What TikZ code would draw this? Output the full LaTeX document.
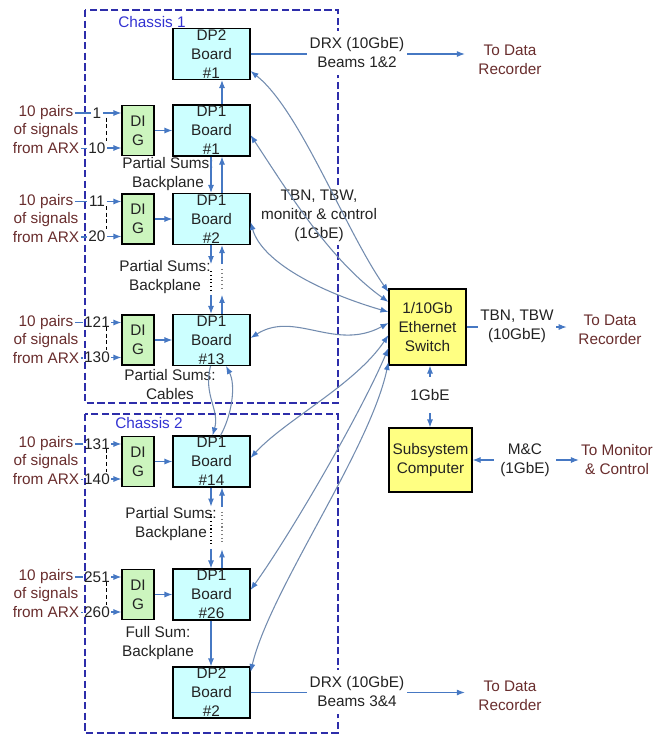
\documentclass[tikz,border=0pt]{standalone}
\usepackage{fontspec}
\setmainfont{Liberation Sans}
\usetikzlibrary{arrows.meta,calc}
\definecolor{boxcyan}{RGB}{204,255,255}
\definecolor{boxgreen}{RGB}{204,245,190}
\definecolor{boxyellow}{RGB}{255,255,130}
\definecolor{chassisc}{RGB}{45,45,170}
\definecolor{chlabel}{RGB}{50,50,210}
\definecolor{arrblue}{RGB}{70,120,195}
\definecolor{curvec}{RGB}{115,140,175}
\definecolor{sigred}{RGB}{105,45,45}
\definecolor{txt}{RGB}{35,35,35}

\newcommand{\ingroup}[4]{%
  \node[dig] (dig#1) at (138,#2) {DI\\G};
  \node[sig] (pa#1) at (46,{#2-17.5}) {10 pairs};
  \node[sig] (of#1) at (46,{#2+0.5}) {of signals};
  \node[sig] (fr#1) at (46,{#2+18}) {from ARX};
  \node[num] (na#1) at (97,{#2-17.5}) {#3};
  \node[num] (nb#1) at (97,{#2+17.5}) {#4};
  \draw[thinl] (pa#1.east) -- (pa#1.east -| na#1.west);
  \draw[thinl] (fr#1.east) -- (fr#1.east -| nb#1.west);
  \draw[arr] (na#1.east) -- (na#1.east -| dig#1.west);
  \draw[arr] (nb#1.east) -- (nb#1.east -| dig#1.west);
  \draw[black, line width=0.7pt, dash pattern=on 3pt off 2pt] ($(dig#1.west)+(-15,-13)$) -- ($(dig#1.west)+(-15,10)$);
  \draw[arr] (dig#1.east) -- (dp#1.west);
}

\begin{document}
\begin{tikzpicture}[x=0.75pt,y=-0.75pt,
  every node/.style={font=\fontsize{11.5}{14.25}\selectfont, text=txt},
  board/.style={draw=black, line width=0.8pt, fill=boxcyan, minimum width=57.75pt, minimum height=38.25pt, inner sep=0pt, align=center},
  dig/.style={draw=black, line width=0.8pt, fill=boxgreen, minimum width=24pt, minimum height=37.5pt, inner sep=0pt, align=center},
  ybox/.style={draw=black, line width=0.8pt, fill=boxyellow, inner sep=0pt, align=center},
  sig/.style={text=sigred, inner sep=1pt},
  num/.style={inner xsep=1pt, inner ysep=1pt},
  lbl/.style={align=center},
  wlbl/.style={align=center, fill=white, inner xsep=2pt, inner ysep=4pt},
  dest/.style={align=center, text=sigred, inner sep=0pt},
  arr/.style={draw=arrblue, line width=0.8pt, -{Latex[length=6pt,width=4.5pt]}},
  barr/.style={draw=arrblue, line width=0.8pt, {Latex[length=6pt,width=4.5pt]}-{Latex[length=6pt,width=4.5pt]}},
  thinl/.style={draw=arrblue, line width=0.8pt},
  curv/.style={draw=curvec, line width=0.8pt, {Latex[length=6pt,width=4.5pt,color=arrblue]}-{Latex[length=6pt,width=4.5pt,color=arrblue]}},
  cable/.style={draw=curvec, line width=0.8pt, -{Latex[length=6pt,width=4.5pt,color=arrblue]}},
  chassis/.style={draw=chassisc, line width=1.1pt, dash pattern=on 5.5pt off 2.5pt},
  dotb/.style={draw=black, line width=0.8pt, dotted},
  dotg/.style={draw=gray, line width=0.8pt, dotted},
]
\useasboundingbox (0,0) rectangle (664,736);

% chassis frames
\draw[chassis] (85,10) rectangle (338,403);
\draw[chassis] (85,414) rectangle (338,733);
\node[text=chlabel] (ch1) at (152,22) {Chassis 1};
\node[text=chlabel] (ch2) at (149,423) {Chassis 2};

% boards
\node[board] (dp2a) at (211.5,54) {DP2\\Board\\\#1};
\node[board] (dpa) at (211.5,130.5) {DP1\\Board\\\#1};
\node[board] (dpb) at (211.5,219) {DP1\\Board\\\#2};
\node[board] (dpm) at (211.5,340) {DP1\\Board\\\#13};
\node[board] (dpn) at (211.5,461.5) {DP1\\Board\\\#14};
\node[board] (dpz) at (211.5,594.5) {DP1\\Board\\\#26};
\node[board] (dp2b) at (211.5,692.5) {DP2\\Board\\\#2};

\node[ybox, minimum width=57.75pt, minimum height=57pt] (sw) at (427.5,327) {1/10Gb\\Ethernet\\Switch};
\node[ybox, minimum width=62.25pt, minimum height=48pt] (sub) at (430.5,460) {Subsystem\\Computer};

\node[dest] (tdr1) at (510,59.5) {To Data\\Recorder};
\node[dest] (tdr2) at (610,329.5) {To Data\\Recorder};
\node[dest] (tdr3) at (510,696) {To Data\\Recorder};
\node[dest] (tmc) at (617,460) {To Monitor\\\& Control};

% input groups
\ingroup{a}{130.5}{1}{10}
\ingroup{b}{219}{11}{20}
\ingroup{m}{340}{121}{130}
\ingroup{n}{461.5}{131}{140}
\ingroup{z}{594.5}{251}{260}

% partial sum labels
\node[lbl] (ps1) at (168,174) {Partial Sums:\\Backplane};
\node[lbl] (ps2) at (165,277.5) {Partial Sums:\\Backplane};
\node[lbl] (ps3) at (170,385) {Partial Sums:\\Cables};
\node[lbl] (ps4) at (171,524) {Partial Sums:\\Backplane};
\node[lbl] (fs) at (158,643.5) {Full Sum:\\Backplane};

% vertical connections
\draw[arr] ($(dpa.north)+(10.5,0)$) -- ($(dp2a.south)+(10.5,0)$);
\draw[arr] ($(dpa.south)+(-0.5,0)$) -- ($(dpb.north)+(-0.5,0)$);
\draw[arr] ($(dpb.north)+(10.5,0)$) -- ($(dpa.south)+(10.5,0)$);

\draw[arr] ($(dpb.south)+(-0.5,0)$) -- ++(0,19);
\draw[arr] ($(dpb.south)+(10.5,19)$) -- ++(0,-19);
\draw[dotb] ($(dpb.south)+(-0.5,26)$) -- ($(dpm.north)+(-0.5,-23)$);
\draw[dotg] ($(dpb.south)+(10.5,24)$) -- ($(dpm.north)+(10.5,-25)$);
\draw[arr] ($(dpm.north)+(-0.5,-19)$) -- ++(0,19);
\draw[arr] ($(dpm.north)+(10.5,0)$) -- ++(0,-19);

\draw[cable] ($(dpm.south)+(-1,0)$) .. controls (203,395) and (220,410) .. ($(dpn.north)+(1,0)$);
\draw[cable] ($(dpn.north)+(9,0)$) .. controls (232,415) and (236,385) .. ($(dpm.south)+(14.5,0)$);

\draw[arr] ($(dpn.south)+(-0.5,0)$) -- ++(0,19);
\draw[arr] ($(dpn.south)+(10.5,19)$) -- ++(0,-19);
\draw[dotb] ($(dpn.south)+(-0.5,26)$) -- ($(dpz.north)+(-0.5,-23)$);
\draw[dotg] ($(dpn.south)+(10.5,24)$) -- ($(dpz.north)+(10.5,-25)$);
\draw[arr] ($(dpz.north)+(-0.5,-19)$) -- ++(0,19);
\draw[arr] ($(dpz.north)+(10.5,0)$) -- ++(0,-19);

\draw[arr] ($(dpz.south)+(-0.5,0)$) -- ($(dp2b.north)+(-0.5,0)$);

% DRX outputs
\draw[arr, shorten >=10pt] (dp2a.east) -- (dp2a.east -| tdr1.west);
\node[wlbl, inner ysep=5pt] (drx1) at (357,53) {DRX (10GbE)\\Beams 1\&2};
\draw[arr, shorten >=10pt] (dp2b.east) -- (dp2b.east -| tdr3.west);
\node[wlbl, inner ysep=5pt] (drx2) at (357,692) {DRX (10GbE)\\Beams 3\&4};

% switch outputs
\draw[arr, shorten >=8.6pt] (sw.east) -- (sw.east -| tdr2.west);
\node[wlbl] (tbn2) at (517,326) {TBN, TBW\\(10GbE)};
\draw[barr, shorten >=1.5pt] (sub.east) -- (sub.east -| tmc.west);
\node[wlbl, inner xsep=5pt] (mc) at (525,460) {M\&C\\(1GbE)};
\draw[barr] ($(sw.south)+(2.5,0)$) -- ($(sub.north)+(-0.5,0)$);
\node[wlbl, inner ysep=9pt] (g1) at (430,395) {1GbE};

% TBN label and curves
\node[lbl, fill=white, inner sep=2pt] (tbn) at (319,216) {TBN, TBW,\\monitor \& control\\(1GbE)};
\draw[curv] ($(dp2a.east)+(0,17)$) .. controls (300,110) and (345,230) .. ($(sw.west)+(0,-35)$);
\draw[curv] ($(dpa.east)+(0,4.5)$) .. controls (290,195) and (330,260) .. ($(sw.west)+(0,-25)$);
\draw[curv] ($(dpb.east)+(0,3)$) .. controls (262,262) and (320,292) .. ($(sw.west)+(0,-15)$);
\draw[curv] ($(dpm.east)+(0,-2)$) .. controls (295,310) and (335,352) .. ($(sw.west)+(0,-4)$);
\draw[curv] ($(dpn.east)+(0,-3.5)$) .. controls (285,420) and (355,385) .. ($(sw.west)+(0,8)$);
\draw[curv] ($(dpz.east)+(0,-4.5)$) .. controls (290,535) and (360,415) .. ($(sw.west)+(0,21)$);
\draw[curv] ($(dp2b.east)+(0,-20.5)$) .. controls (270,590) and (370,450) .. ($(sw.west)+(0,35)$);
\end{tikzpicture}
\end{document}
